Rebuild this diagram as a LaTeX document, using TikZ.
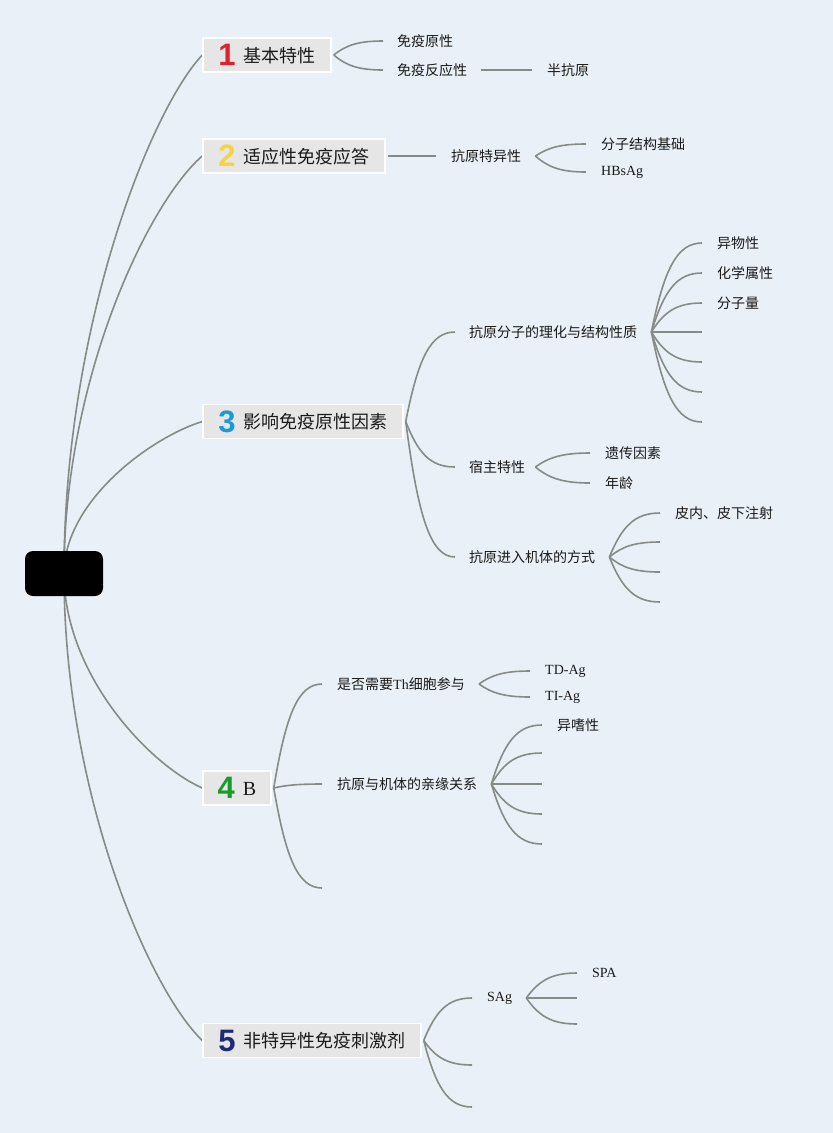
\documentclass[tikz,border=0pt]{standalone}
\usepackage{fontspec}
\setmainfont{Noto Sans CJK SC}
\newfontfamily\lat{Liberation Serif}
\newfontfamily\numf{Liberation Sans}
\usetikzlibrary{calc}
\pgfdeclarelayer{back}
\pgfdeclarelayer{bg}
\pgfsetlayers{back,bg,main}
\definecolor{bgc}{HTML}{E9F0F8}
\definecolor{boxc}{HTML}{E6E6E6}
\definecolor{linec}{HTML}{878B88}
\definecolor{txtc}{HTML}{1A1A1A}
\definecolor{n1}{HTML}{E0202E}
\definecolor{n2}{HTML}{F4D443}
\definecolor{n3}{HTML}{1C9AD8}
\definecolor{n4}{HTML}{1A9A2B}
\definecolor{n5}{HTML}{1E2A78}
\newcommand\mmnum[2]{\raisebox{-3.5pt}{\numf\bfseries\fontsize{31}{31}\selectfont\color{#1}#2}\hspace{8pt}}
\newcommand\mmfan[2]{\draw[conn] let \p1=(#1), \p2=(#2) in (\p1) .. controls ({\x1+0.25*(\x2-\x1)},{\y1+0.7*(\y2-\y1)}) and ({\x1+0.5*(\x2-\x1)},{\y2}) .. (\p2);}
\newcommand\mmroot[1]{\draw[conn] let \p1=(r.center), \p2=(#1) in (\p1) .. controls ({\x1},{\y1+0.47*(\y2-\y1)}) and ({\x1+0.615*(\x2-\x1)},{\y1+0.89*(\y2-\y1)}) .. (\p2);}
\tikzset{
  conn/.style={draw=linec, line width=1.6pt},
  rootbox/.style={fill=black, rounded corners=8pt, minimum width=78pt, minimum height=45pt, inner sep=0pt},
  mainbox/.style={fill=boxc, draw=white, line width=1.5pt, minimum height=34pt, inner sep=0pt, text=txtc, font=\fontsize{18}{20}\selectfont},
  txt/.style={anchor=west, inner sep=0pt, text=txtc, font=\fontsize{14}{16}\selectfont},
}
\begin{document}
\begin{tikzpicture}[x=1pt,y=-1pt]
\begin{pgfonlayer}{back}
\fill[bgc] (0,0) rectangle (833,1133);
\end{pgfonlayer}
\useasboundingbox (0,0) rectangle (833,1133);

% root and main topics
\node[rootbox] (r) at (64,573.5) {};
\node[mainbox, minimum width=128pt] (b1) at (267,55) {\mmnum{n1}{1}基本特性};
\node[mainbox, minimum width=182pt] (b2) at (294,156) {\mmnum{n2}{2}适应性免疫应答};
\node[mainbox, minimum width=200pt] (b3) at (303,421.5) {\mmnum{n3}{3}影响免疫原性因素};
\node[mainbox, minimum width=68pt] (b4) at (237,788) {\mmnum{n4}{4}{\lat\fontsize{20}{22}\selectfont B}};
\node[mainbox, minimum width=218pt] (b5) at (312,1040.5) {\mmnum{n5}{5}非特异性免疫刺激剂};

% branch 1
\node[txt] (t11) at (397,41) {免疫原性};
\node[txt] (t12) at (397,70) {免疫反应性};
\node[txt] (t121) at (547,70) {半抗原};
% branch 2
\node[txt] (t21) at (451,156) {抗原特异性};
\node[txt] (t211) at (601,144) {分子结构基础};
\node[txt] (t212) at (601,172) {\lat HBsAg};
% branch 3
\node[txt] (t31) at (469,332) {抗原分子的理化与结构性质};
\node[txt] (t32) at (469,467) {宿主特性};
\node[txt] (t33) at (469,557) {抗原进入机体的方式};
\node[txt] (t311) at (717,243) {异物性};
\node[txt] (t312) at (717,273) {化学属性};
\node[txt] (t313) at (717,303) {分子量};
\coordinate (e314) at (702,332);
\coordinate (e315) at (702,362);
\coordinate (e316) at (702,392);
\coordinate (e317) at (702,422);
\node[txt] (t321) at (605,453) {遗传因素};
\node[txt] (t322) at (605,483) {年龄};
\node[txt] (t331) at (675,513) {皮内、皮下注射};
\coordinate (e332) at (660,542);
\coordinate (e333) at (660,572);
\coordinate (e334) at (660,602);
% branch 4
\node[txt] (t41) at (337,684) {是否需要{\lat Th}细胞参与};
\node[txt] (t42) at (337,784) {抗原与机体的亲缘关系};
\coordinate (e43) at (322,888);
\node[txt] (t411) at (545,671) {\lat TD-Ag};
\node[txt] (t412) at (545,697) {\lat TI-Ag};
\node[txt] (t421) at (557,725) {异嗜性};
\coordinate (e422) at (542,753);
\coordinate (e423) at (542,784);
\coordinate (e424) at (542,814);
\coordinate (e425) at (542,844);
% branch 5
\node[txt] (t51) at (487,998) {\lat SAg};
\coordinate (e52) at (472,1065);
\coordinate (e53) at (472,1107);
\node[txt] (t511) at (592,973) {\lat SPA};
\coordinate (e512) at (577,998);
\coordinate (e513) at (577,1024);

\begin{pgfonlayer}{bg}
\mmroot{b1.west}
\mmroot{b2.west}
\mmroot{b3.west}
\mmroot{b4.west}
\mmroot{b5.west}
% 1
\mmfan{[xshift=2pt]b1.east}{[xshift=-14pt]t11.west}
\mmfan{[xshift=2pt]b1.east}{[xshift=-14pt]t12.west}
\draw[conn] ([xshift=14pt]t12.east) -- ([xshift=-15pt]t121.west);
% 2
\draw[conn] ([xshift=2pt]b2.east) -- ([xshift=-15pt]t21.west);
\mmfan{[xshift=14pt]t21.east}{[xshift=-15pt]t211.west}
\mmfan{[xshift=14pt]t21.east}{[xshift=-15pt]t212.west}
% 3
\mmfan{[xshift=2pt]b3.east}{[xshift=-14pt]t31.west}
\mmfan{[xshift=2pt]b3.east}{[xshift=-14pt]t32.west}
\mmfan{[xshift=2pt]b3.east}{[xshift=-14pt]t33.west}
\mmfan{[xshift=14pt]t31.east}{[xshift=-15pt]t311.west}
\mmfan{[xshift=14pt]t31.east}{[xshift=-15pt]t312.west}
\mmfan{[xshift=14pt]t31.east}{[xshift=-15pt]t313.west}
\mmfan{[xshift=14pt]t31.east}{e314}
\mmfan{[xshift=14pt]t31.east}{e315}
\mmfan{[xshift=14pt]t31.east}{e316}
\mmfan{[xshift=14pt]t31.east}{e317}
\mmfan{[xshift=10pt]t32.east}{[xshift=-15pt]t321.west}
\mmfan{[xshift=10pt]t32.east}{[xshift=-15pt]t322.west}
\mmfan{[xshift=14pt]t33.east}{[xshift=-15pt]t331.west}
\mmfan{[xshift=14pt]t33.east}{e332}
\mmfan{[xshift=14pt]t33.east}{e333}
\mmfan{[xshift=14pt]t33.east}{e334}
% 4
\mmfan{[xshift=2pt]b4.east}{[xshift=-15pt]t41.west}
\mmfan{[xshift=2pt]b4.east}{[xshift=-15pt]t42.west}
\mmfan{[xshift=2pt]b4.east}{e43}
\mmfan{[xshift=14pt]t41.east}{[xshift=-15pt]t411.west}
\mmfan{[xshift=14pt]t41.east}{[xshift=-15pt]t412.west}
\mmfan{[xshift=14pt]t42.east}{[xshift=-15pt]t421.west}
\mmfan{[xshift=14pt]t42.east}{e422}
\mmfan{[xshift=14pt]t42.east}{e423}
\mmfan{[xshift=14pt]t42.east}{e424}
\mmfan{[xshift=14pt]t42.east}{e425}
% 5
\mmfan{[xshift=2pt]b5.east}{[xshift=-15pt]t51.west}
\mmfan{[xshift=2pt]b5.east}{e52}
\mmfan{[xshift=2pt]b5.east}{e53}
\mmfan{[xshift=14pt]t51.east}{[xshift=-15pt]t511.west}
\mmfan{[xshift=14pt]t51.east}{e512}
\mmfan{[xshift=14pt]t51.east}{e513}
\end{pgfonlayer}
\end{tikzpicture}
\end{document}
